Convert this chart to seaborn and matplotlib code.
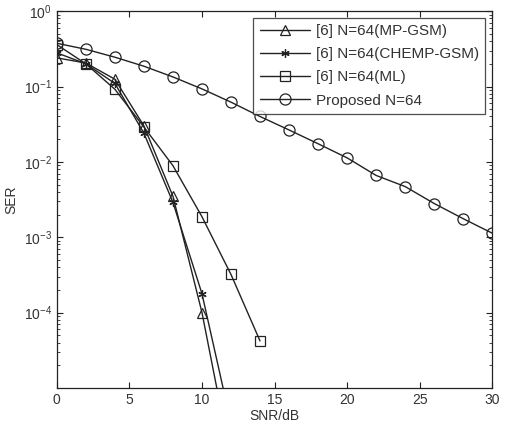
import matplotlib
matplotlib.use("Agg")
import matplotlib.pyplot as plt
import seaborn as sns
import pandas as pd
from matplotlib.ticker import LogLocator, NullFormatter

# SNR points (dB)
snr_short = [0, 2, 4, 6, 8, 10, 12]
snr_ml = [0, 2, 4, 6, 8, 10, 12, 14]
snr_prop = [0, 2, 4, 6, 8, 10, 12, 14, 16, 18, 20, 22, 24, 26, 28, 30]

# SER values
ser_mp = [0.24, 0.205, 0.125, 0.030, 0.0035, 1.0e-4, 1.1e-6]
ser_chemp = [0.28, 0.20, 0.11, 0.024, 0.0029, 1.78e-4, 3.4e-6]
ser_ml = [0.36, 0.20, 0.092, 0.029, 0.0089, 0.00187, 3.2e-4, 4.2e-5]
ser_prop = [0.375, 0.312, 0.245, 0.186, 0.134, 0.093, 0.062, 0.040,
            0.0265, 0.0174, 0.0113, 0.0066, 0.0047, 0.0028, 0.00176, 0.00113]

labels = ["[6] N=64(MP-GSM)", "[6] N=64(CHEMP-GSM)", "[6] N=64(ML)", "Proposed N=64"]

sns.set_style("ticks")
plt.rcParams["font.family"] = ["Liberation Sans", "DejaVu Sans"]
plt.rcParams["xtick.direction"] = "in"
plt.rcParams["ytick.direction"] = "in"

fig = plt.figure(figsize=(5.31, 4.30), dpi=100)
ax = fig.add_axes([0.107, 0.098, 0.820, 0.876])

series = [
    (snr_short, ser_mp, "^", 7),
    (snr_short, ser_chemp, (6, 2, 0), 6),
    (snr_ml, ser_ml, "s", 7),
    (snr_prop, ser_prop, "o", 8),
]
for (xs, ys, mk, ms), lab in zip(series, labels):
    df = pd.DataFrame({"snr": xs, "ser": ys})
    sns.lineplot(data=df, x="snr", y="ser", ax=ax, color="#222222", lw=1.0,
                 marker=mk, markersize=ms, markerfacecolor="none",
                 markeredgecolor="#222222", markeredgewidth=0.9, label=lab)

ax.set_yscale("log")
ax.set_xlim(0, 30)
ax.set_ylim(1e-5, 1)
ax.set_xticks([0, 5, 10, 15, 20, 25, 30])
ax.set_yticks([1e-4, 1e-3, 1e-2, 1e-1, 1e0])
ax.yaxis.set_minor_locator(LogLocator(base=10, subs=range(2, 10), numticks=20))
ax.yaxis.set_minor_formatter(NullFormatter())
ax.tick_params(which="both", top=True, right=True, labelsize=10, colors="#222222",
               labelcolor="#333333")
ax.tick_params(which="major", length=4)
ax.tick_params(which="minor", length=2)
for sp in ax.spines.values():
    sp.set_color("#222222")
    sp.set_linewidth(0.9)

ax.set_xlabel("SNR/dB", fontsize=10, color="#333333", labelpad=2)
ax.set_ylabel("SER", fontsize=10, color="#333333", labelpad=4)

leg = ax.legend(loc="upper right", fontsize=11, frameon=True, fancybox=False,
                edgecolor="#222222", handlelength=3.3, borderpad=0.4,
                labelspacing=0.6, handletextpad=0.4, borderaxespad=0.45)
leg.get_frame().set_linewidth(0.9)
for t in leg.get_texts():
    t.set_color("#333333")

fig.savefig("out.png", dpi=100)
